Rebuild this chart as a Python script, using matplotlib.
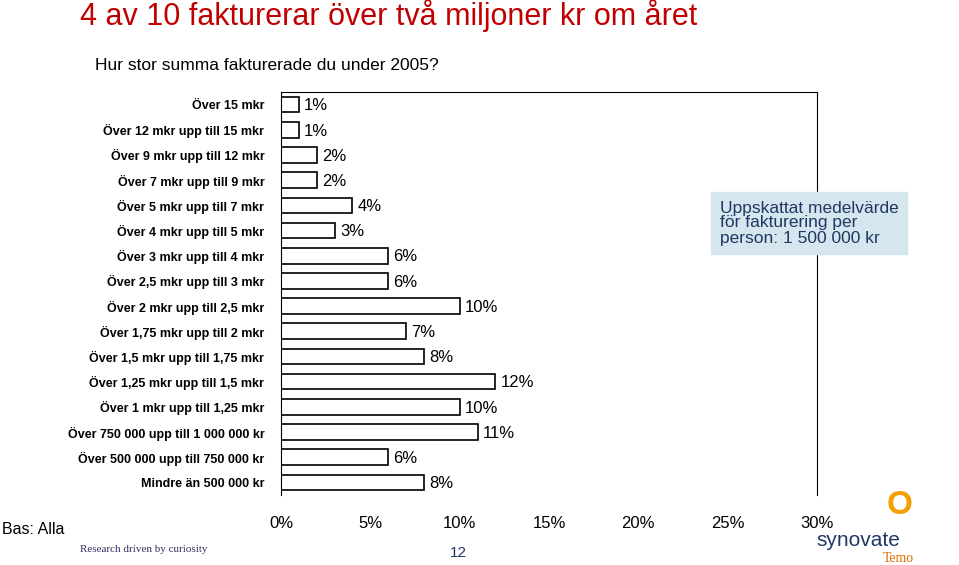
import matplotlib
matplotlib.use("Agg")
import matplotlib.pyplot as plt

plt.rcParams["font.family"] = "Liberation Sans"

categories = ["Över 15 mkr", "Över 12 mkr upp till 15 mkr", "Över 9 mkr upp till 12 mkr",
              "Över 7 mkr upp till 9 mkr", "Över 5 mkr upp till 7 mkr", "Över 4 mkr upp till 5 mkr",
              "Över 3 mkr upp till 4 mkr", "Över 2,5 mkr upp till 3 mkr", "Över 2 mkr upp till 2,5 mkr",
              "Över 1,75 mkr upp till 2 mkr", "Över 1,5 mkr upp till 1,75 mkr",
              "Över 1,25 mkr upp till 1,5 mkr", "Över 1 mkr upp till 1,25 mkr",
              "Över 750 000 upp till 1 000 000 kr", "Över 500 000 upp till 750 000 kr",
              "Mindre än 500 000 kr"]
values = [1, 1, 2, 2, 4, 3, 6, 6, 10, 7, 8, 12, 10, 11, 6, 8]
xticks = [0, 5, 10, 15, 20, 25, 30]

W, H = 959, 565
fig = plt.figure(figsize=(W / 100, H / 100), dpi=100)
ax = fig.add_axes([281 / W, 1 - 495 / H, (817 - 281) / W, (495 - 92) / H])

pos = list(range(len(categories)))
ax.barh(pos, values, height=0.62, color="white", edgecolor="black", linewidth=1.2)
for p, v in zip(pos, values):
    ax.text(v + 0.3, p + 0.05, f"{v}%", fontsize=12, va="center", ha="left")
ax.set_ylim(len(categories) - 0.5, -0.5)
ax.set_xlim(0, 30)
ax.set_yticks(pos)
ax.set_yticklabels(categories, fontsize=9, fontweight="bold")
ax.set_xticks(xticks)
ax.set_xticklabels([f"{t}%" for t in xticks], fontsize=12)
ax.tick_params(length=0, pad=15)
ax.tick_params(axis="y", pad=12)
ax.spines["bottom"].set_visible(False)

fig.text(80 / W, 1 - 16 / H, "4 av 10 fakturerar över två miljoner kr om året",
         color="#c00000", fontsize=22, va="center")
fig.text(95 / W, 1 - 65 / H, "Hur stor summa fakturerade du under 2005?", fontsize=12.5, va="center")
fig.text(720 / W, 1 - 223 / H, "Uppskattat medelvärde\nför fakturering per\nperson: 1 500 000 kr",
         fontsize=12.5, color="#1f3864", va="center", ha="left", linespacing=1.0,
         bbox=dict(facecolor="#d6e6ee", edgecolor="#d6e6ee", boxstyle="square,pad=0.5"))
fig.text(2 / W, 1 - 530 / H, "Bas: Alla", fontsize=11.5, va="center")
fig.text(80 / W, 1 - 550 / H, "Research driven by curiosity", fontsize=8,
         family="Liberation Serif", color="#333366", va="center")
fig.text(458 / W, 1 - 553 / H, "12", fontsize=11, color="#1f3864", va="center", ha="center")
fig.text(858 / W, 1 - 540 / H, "synovate", fontsize=15, color="#1f3864", va="center", ha="center")
fig.text(898 / W, 1 - 558 / H, "Temo", fontsize=10, color="#e07000", va="center", ha="center",
         family="Liberation Serif")
fig.text(900 / W, 1 - 505 / H, "O", fontsize=24, color="#f5a000", va="center", ha="center",
         fontweight="bold")

fig.savefig("out.png", dpi=100)
